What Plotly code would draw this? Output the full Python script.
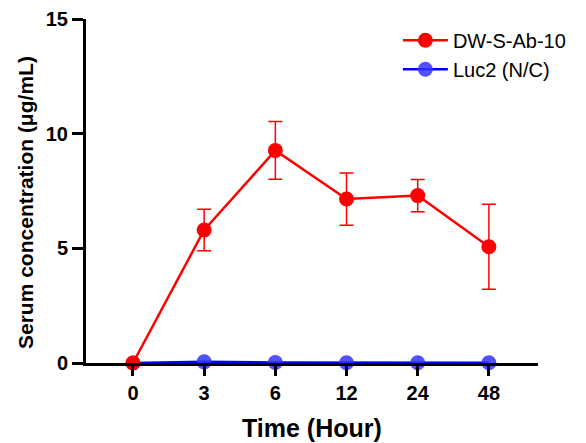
import plotly.graph_objects as go

time_labels = ["0", "3", "6", "12", "24", "48"]
ab_mean = [0.0, 5.8, 9.27, 7.15, 7.3, 5.07]
ab_err = [0.0, 0.9, 1.26, 1.14, 0.7, 1.85]
luc_mean = [0.0, 0.05, 0.02, 0.01, 0.01, 0.01]
y_ticks = [0, 5, 10, 15]

font_family = "Liberation Sans, Arial, sans-serif"

fig = go.Figure()
fig.add_trace(go.Scatter(
    x=time_labels, y=luc_mean, name="Luc2 (N/C)", mode="lines+markers",
    line=dict(color="#0000ff", width=2.5),
    marker=dict(color="rgba(50,50,255,0.85)", size=15),
    cliponaxis=False,
))
fig.add_trace(go.Scatter(
    x=time_labels, y=ab_mean, name="DW-S-Ab-10", mode="lines+markers",
    line=dict(color="#ff0000", width=2.5),
    marker=dict(color="#ff0000", size=15),
    error_y=dict(type="data", array=ab_err, visible=True, color="#ff0000", thickness=1.5, width=7),
    cliponaxis=False,
))

# page has an 8px body margin; figure is sized/offset to compensate
fig.update_layout(
    width=578, height=435,
    margin=dict(l=78, r=48, t=11, b=80),
    plot_bgcolor="white", paper_bgcolor="white",
    font=dict(family=font_family, color="black"),
    showlegend=True,
    legend=dict(x=0.69, y=0.995, xanchor="left", yanchor="top", traceorder="reversed",
                font=dict(size=20, family=font_family), bgcolor="rgba(0,0,0,0)",
                itemwidth=45, tracegroupgap=0),
    xaxis=dict(
        type="category", range=[-0.66, 5.69], automargin=False,
        showline=True, linecolor="black", linewidth=3,
        ticks="outside", ticklen=10, tickwidth=2.5, tickcolor="black",
        tickfont=dict(size=20, family=font_family, weight="bold"),
        showgrid=False, zeroline=False,
    ),
    yaxis=dict(
        range=[0, 15], tickvals=y_ticks, automargin=False,
        showline=True, linecolor="black", linewidth=3,
        ticks="outside", ticklen=11, tickwidth=2.5, tickcolor="black",
        tickfont=dict(size=20, family=font_family, weight="bold"),
        showgrid=False, zeroline=False,
    ),
    annotations=[
        dict(text="<b>Time (Hour)</b>", xref="paper", yref="paper", x=0.5, y=0,
             xanchor="center", yanchor="middle", yshift=-65, showarrow=False,
             font=dict(size=25, family=font_family)),
        dict(text="<b>Serum concentration (μg/mL)</b>", xref="paper", yref="paper", x=0, y=0.5,
             xanchor="center", yanchor="middle", xshift=-61, yshift=-12, textangle=-90, showarrow=False,
             font=dict(size=21, family=font_family)),
    ],
)

fig.write_html("out.html")
